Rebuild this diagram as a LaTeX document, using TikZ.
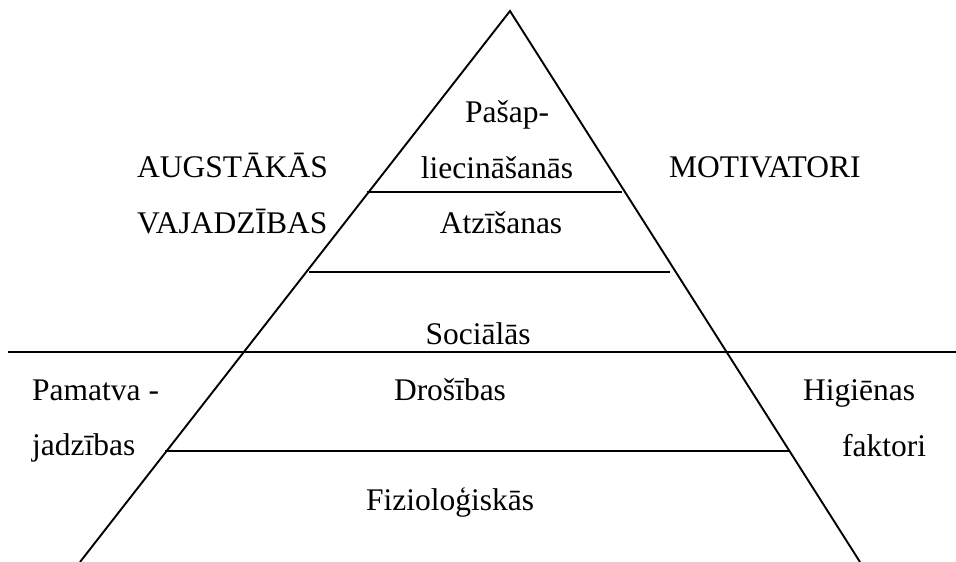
\documentclass[tikz,border=0pt]{standalone}
\usepackage{fontspec}
\setmainfont{Liberation Serif}
\begin{document}
\begin{tikzpicture}[x=1pt,y=-1pt,
  edge/.style={line width=1.9pt,line join=miter},
  lbl/.style={inner sep=0pt,font=\fontsize{31.5}{36}\selectfont}]
\useasboundingbox (0,0) rectangle (956,562);
% pyramid outline
\coordinate (apex) at (510,11);
\coordinate (bl) at (80,562);
\coordinate (br) at (860,562);
\draw[edge] (bl) -- (apex) -- (br);
% level dividers
\coordinate (l1a) at (367,192); \coordinate (l1b) at (622,192);
\coordinate (l2a) at (309,272); \coordinate (l2b) at (670,272);
\coordinate (l3a) at (8,352);   \coordinate (l3b) at (956,352);
\coordinate (l4a) at (165,451); \coordinate (l4b) at (789,451);
\draw[edge] (l1a) -- (l1b);
\draw[edge] (l2a) -- (l2b);
\draw[edge] (l3a) -- (l3b);
\draw[edge] (l4a) -- (l4b);
% level names
\node[lbl,anchor=base] (p1) at (507,122) {Pašap-};
\node[lbl,anchor=base] (p2) at (497,178) {liecināšanās};
\node[lbl,anchor=base] (p3) at (501,233) {Atzīšanas};
\node[lbl,anchor=base] (p4) at (478,344) {Sociālās};
\node[lbl,anchor=base] (p5) at (450,400) {Drošības};
\node[lbl,anchor=base] (p6) at (450,510) {Fizioloģiskās};
% side labels
\node[lbl,anchor=base west] (a1) at (137,177) {AUGSTĀKĀS};
\node[lbl,anchor=base west] (a2) at (137,233) {VAJADZĪBAS};
\node[lbl,anchor=base west] (m1) at (669,177) {MOTIVATORI};
\node[lbl,anchor=base west] (b1) at (32,400) {Pamatva -};
\node[lbl,anchor=base west] (b2) at (32,455) {jadzības};
\node[lbl,anchor=base west] (h1) at (803,400) {Higiēnas};
\node[lbl,anchor=base west] (h2) at (842,456) {faktori};
\end{tikzpicture}
\end{document}
